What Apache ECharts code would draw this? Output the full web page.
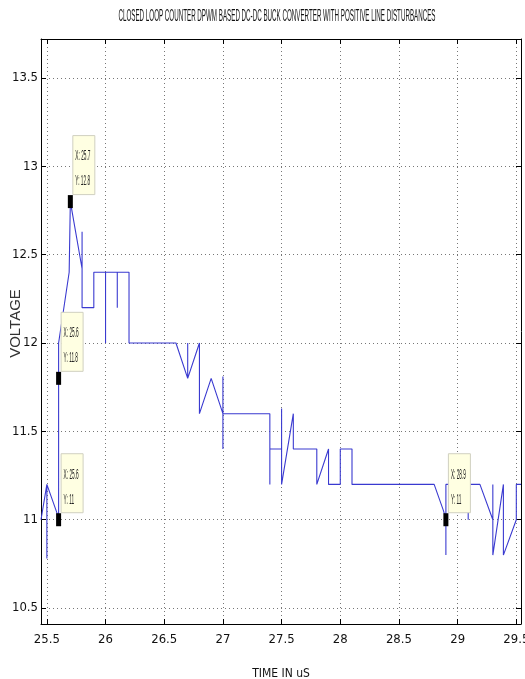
<!DOCTYPE html>
<html><head><meta charset="utf-8">
<script src="https://cdn.jsdelivr.net/npm/echarts@6/dist/echarts.min.js"></script>
<style>html,body{margin:0;padding:0;background:#fff}#c{width:525px;height:679px}</style>
</head><body><div id="c"></div>
<script>
// ---------- data ----------
const titleText = 'CLOSED LOOP COUNTER DPWM BASED DC-DC BUCK CONVERTER WITH POSITIVE LINE DISTURBANCES';
const xName = 'TIME IN uS';
const yName = 'VOLTAGE';
const xTicks = [25.5, 26, 26.5, 27, 27.5, 28, 28.5, 29, 29.5];
const yTicks = [10.5, 11, 11.5, 12, 12.5, 13, 13.5];
const xRange = [25.45, 29.54];
const yRange = [10.41, 13.72];

const timeUs = [25.45, 25.5, 25.5, 25.5, 25.585, 25.6, 25.6, 25.69, 25.7, 25.8,
  25.8, 25.8, 25.9, 25.9, 26.0, 26.0, 26.0, 26.1, 26.1, 26.1,
  26.2, 26.2, 26.6, 26.7, 26.7, 26.7, 26.8, 26.8, 26.9, 27.0,
  27.0, 27.0, 27.0, 27.4, 27.4, 27.4, 27.5, 27.5, 27.5, 27.6,
  27.6, 27.8, 27.8, 27.9, 27.9, 28.0, 28.0, 28.1, 28.1, 28.8,
  28.88, 28.9, 28.9, 28.9, 29.09, 29.09, 29.09, 29.19, 29.3, 29.3,
  29.3, 29.39, 29.39, 29.5, 29.5, 29.54];
const voltage = [11.0, 11.2, 10.78, 11.2, 11.04, 11.0, 12.0, 12.4, 12.8, 12.42,
  12.63, 12.2, 12.2, 12.4, 12.4, 12.0, 12.4, 12.4, 12.2, 12.4,
  12.4, 12.0, 12.0, 11.8, 12.0, 11.8, 12.0, 11.6, 11.8, 11.6,
  11.81, 11.4, 11.6, 11.6, 11.2, 11.4, 11.4, 11.63, 11.2, 11.6,
  11.4, 11.4, 11.2, 11.4, 11.2, 11.2, 11.4, 11.4, 11.2, 11.2,
  11.05, 11.0, 10.8, 11.2, 11.2, 11.0, 11.2, 11.2, 11.0, 11.2,
  10.8, 11.2, 10.8, 11.0, 11.2, 11.2];

const tipX = [25.7, 25.6, 25.6, 28.9];
const tipY = [12.8, 11.8, 11, 11];

// ---------- helpers ----------
const FONT_FAMILY = "'Liberation Sans', Arial, sans-serif";
const NARROW = "'Liberation Sans Narrow', 'DejaVu Sans Condensed', 'Liberation Sans', sans-serif";
const mctx = document.createElement('canvas').getContext('2d');
function measure(text, font) { mctx.font = font; return mctx.measureText(text).width; }

const titleFont = '16px ' + FONT_FAMILY;
const titleScale = 317 / measure(titleText, titleFont);
const tipFont = '14px ' + FONT_FAMILY;
const tipScale = 15 / measure('X: 25.7', tipFont);

const lineData = timeUs.map((t, i) => [t, voltage[i]]);
const tipData = tipX.map((t, i) => [t, tipY[i]]);

const chart = echarts.init(document.getElementById('c'), null, { renderer: 'canvas' });

const tickStyle = { color: '#000', width: 1 };
const gridLine = { show: true, lineStyle: { type: [1, 3], color: '#777', width: 1 } };

chart.setOption({
  backgroundColor: '#fff',
  animation: false,
  graphic: [{
    type: 'text', x: 277, y: 17, scaleX: titleScale,
    style: { text: titleText, font: titleFont, fill: '#111', align: 'center', verticalAlign: 'middle' }
  }],
  grid: { left: 41, right: 4, top: 39, bottom: 55, containLabel: false, outerBoundsMode: 'none' },
  xAxis: [{
    type: 'value', position: 'bottom', min: xRange[0], max: xRange[1],
    name: xName, nameLocation: 'middle', nameGap: 44, nameMoveOverlap: false,
    nameTextStyle: { fontFamily: NARROW, fontSize: 12, color: '#111' },
    axisLine: { show: true, onZero: false, lineStyle: tickStyle },
    axisTick: { show: true, inside: true, length: 5, customValues: xTicks, lineStyle: tickStyle },
    axisLabel: { customValues: xTicks, formatter: v => String(v), margin: 9,
      fontFamily: NARROW, fontSize: 13, color: '#111' },
    splitLine: gridLine
  }, {
    type: 'value', position: 'top', min: xRange[0], max: xRange[1],
    axisLine: { show: true, onZero: false, lineStyle: tickStyle },
    axisTick: { show: true, inside: true, length: 5, customValues: xTicks, lineStyle: tickStyle },
    axisLabel: { show: false },
    splitLine: { show: false }
  }],
  yAxis: [{
    type: 'value', position: 'left', min: yRange[0], max: yRange[1],
    name: yName, nameLocation: 'middle', nameGap: 18, nameRotate: 90, nameMoveOverlap: false,
    nameTextStyle: { fontFamily: FONT_FAMILY, fontSize: 15, color: '#333', padding: [0, 0, 0, 16] },
    axisLine: { show: true, onZero: false, lineStyle: tickStyle },
    axisTick: { show: true, inside: true, length: 5, customValues: yTicks, lineStyle: tickStyle },
    axisLabel: { customValues: yTicks, formatter: v => String(v), margin: 3,
      fontFamily: NARROW, fontSize: 13, color: '#111' },
    splitLine: gridLine
  }, {
    type: 'value', position: 'right', min: yRange[0], max: yRange[1],
    axisLine: { show: true, onZero: false, lineStyle: tickStyle },
    axisTick: { show: true, inside: true, length: 5, customValues: yTicks, lineStyle: tickStyle },
    axisLabel: { show: false },
    splitLine: { show: false }
  }],
  series: [{
    type: 'line', data: lineData, showSymbol: false, symbol: 'none',
    lineStyle: { color: '#3a3ad0', width: 1.1 }, z: 3
  }, {
    type: 'custom', data: tipData, clip: false, z: 5,
    renderItem: function (params, api) {
      const x = api.value(0), y = api.value(1);
      const p = api.coord([x, y]);
      return {
        type: 'group',
        children: [
          { type: 'rect', shape: { x: p[0] + 2.5, y: p[1] - 66, width: 22, height: 59 },
            style: { fill: '#ffffe2', stroke: '#d0d0c0', lineWidth: 1 } },
          { type: 'text', x: p[0] + 5, y: p[1] - 45, scaleX: tipScale,
            style: { text: 'X: ' + x, font: tipFont, fill: '#222', align: 'left', verticalAlign: 'middle' } },
          { type: 'text', x: p[0] + 5, y: p[1] - 20, scaleX: tipScale,
            style: { text: 'Y: ' + y, font: tipFont, fill: '#222', align: 'left', verticalAlign: 'middle' } },
          { type: 'rect', shape: { x: p[0] - 2.5, y: p[1] - 6.5, width: 5, height: 13 },
            style: { fill: '#000' } }
        ]
      };
    }
  }]
});
</script>
</body></html>
